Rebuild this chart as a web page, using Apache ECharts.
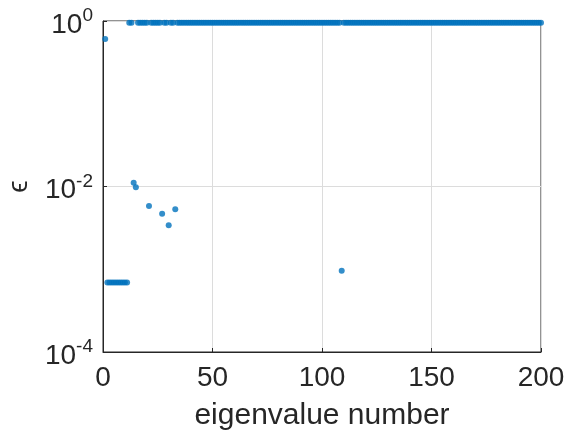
<!DOCTYPE html>
<html>
<head>
<meta charset="utf-8">
<script src="https://cdn.jsdelivr.net/npm/echarts@6/dist/echarts.min.js"></script>
<style>
html,body{margin:0;padding:0;background:#fff;}
#c{width:585px;height:436px;}
</style>
</head>
<body>
<div id="c"></div>
<script>
// eigenvalue number runs 1..200; epsilon values
var epsValues = [
  0.606, 6.9e-4, 6.9e-4, 6.9e-4, 6.9e-4, 6.9e-4, 6.9e-4, 6.9e-4, 6.9e-4, 6.9e-4,
  6.9e-4, 0.95, 0.95, 0.0111, 0.0098, 0.95, 0.95, 0.95, 0.95, 0.95,
  0.0058, 0.95, 0.95, 0.95, 0.95, 0.95, 0.0047, 0.95, 0.95, 0.0034,
  0.95, 0.95, 0.0053, 0.95, 0.95, 0.95, 0.95, 0.95, 0.95, 0.95,
  0.95, 0.95, 0.95, 0.95, 0.95, 0.95, 0.95, 0.95, 0.95, 0.95,
  0.95, 0.95, 0.95, 0.95, 0.95, 0.95, 0.95, 0.95, 0.95, 0.95,
  0.95, 0.95, 0.95, 0.95, 0.95, 0.95, 0.95, 0.95, 0.95, 0.95,
  0.95, 0.95, 0.95, 0.95, 0.95, 0.95, 0.95, 0.95, 0.95, 0.95,
  0.95, 0.95, 0.95, 0.95, 0.95, 0.95, 0.95, 0.95, 0.95, 0.95,
  0.95, 0.95, 0.95, 0.95, 0.95, 0.95, 0.95, 0.95, 0.95, 0.95,
  0.95, 0.95, 0.95, 0.95, 0.95, 0.95, 0.95, 0.95, 0.00096, 0.95,
  0.95, 0.95, 0.95, 0.95, 0.95, 0.95, 0.95, 0.95, 0.95, 0.95,
  0.95, 0.95, 0.95, 0.95, 0.95, 0.95, 0.95, 0.95, 0.95, 0.95,
  0.95, 0.95, 0.95, 0.95, 0.95, 0.95, 0.95, 0.95, 0.95, 0.95,
  0.95, 0.95, 0.95, 0.95, 0.95, 0.95, 0.95, 0.95, 0.95, 0.95,
  0.95, 0.95, 0.95, 0.95, 0.95, 0.95, 0.95, 0.95, 0.95, 0.95,
  0.95, 0.95, 0.95, 0.95, 0.95, 0.95, 0.95, 0.95, 0.95, 0.95,
  0.95, 0.95, 0.95, 0.95, 0.95, 0.95, 0.95, 0.95, 0.95, 0.95,
  0.95, 0.95, 0.95, 0.95, 0.95, 0.95, 0.95, 0.95, 0.95, 0.95,
  0.95, 0.95, 0.95, 0.95, 0.95, 0.95, 0.95, 0.95, 0.95, 0.95
];
var eigenNumbers = [];
for (var i = 0; i < epsValues.length; i++) eigenNumbers.push(i + 1);

var xTicks = [0, 50, 100, 150, 200];
var yTickExponents = [-4, -2, 0];
var xLabel = 'eigenvalue number';
var yLabel = 'ϵ';

var points = eigenNumbers.map(function (n, i) { return [n, epsValues[i]]; });

var textColor = '#262626';
var font = 'Liberation Sans, Arial, Helvetica, sans-serif';

var chart = echarts.init(document.getElementById('c'), null, {renderer: 'canvas'});
chart.setOption({
  animation: false,
  backgroundColor: '#ffffff',
  grid: {left: 103, right: 44, top: 21, bottom: 84, containLabel: false, outerBoundsMode: 'none',
         show: true, borderColor: textColor, borderWidth: 1, backgroundColor: 'transparent'},
  xAxis: {
    type: 'value', min: xTicks[0], max: xTicks[xTicks.length - 1], interval: 50,
    name: xLabel, nameLocation: 'middle', nameGap: 49,
    nameTextStyle: {fontSize: 30, color: textColor, fontFamily: font},
    axisLine: {show: true, lineStyle: {color: textColor, width: 1}},
    axisTick: {show: true, inside: true, length: 4, lineStyle: {color: textColor}},
    axisLabel: {fontSize: 28, color: textColor, fontFamily: font, margin: 12},
    splitLine: {show: true, lineStyle: {color: '#dcdcdc', width: 1}}
  },
  yAxis: {
    type: 'log', logBase: 10, min: Math.pow(10, yTickExponents[0]), max: Math.pow(10, yTickExponents[yTickExponents.length - 1]), interval: 2,
    name: yLabel, nameLocation: 'middle', nameGap: 70, nameRotate: 90,
    nameTextStyle: {fontSize: 28, color: textColor, fontFamily: font},
    axisLine: {show: true, lineStyle: {color: textColor, width: 1}},
    axisTick: {show: true, inside: true, length: 4, lineStyle: {color: textColor}},
    minorTick: {show: false},
    axisLabel: {
      margin: 10, color: textColor, fontFamily: font,
      formatter: function (v) {
        var e = Math.round(Math.log10(v));
        return '{b|10}{s|' + e + '}';
      },
      rich: {
        b: {fontSize: 28, color: textColor, fontFamily: font, padding: [8, 0, 0, 0]},
        s: {fontSize: 19, color: textColor, fontFamily: font, padding: [0, 0, 10, 0]}
      }
    },
    splitLine: {show: true, lineStyle: {color: '#dcdcdc', width: 1}}
  },
  series: [{
    type: 'scatter',
    data: points,
    symbol: 'circle',
    symbolSize: 6,
    clip: false,
    itemStyle: {color: '#0072BD'}
  }]
});
</script>
</body>
</html>
